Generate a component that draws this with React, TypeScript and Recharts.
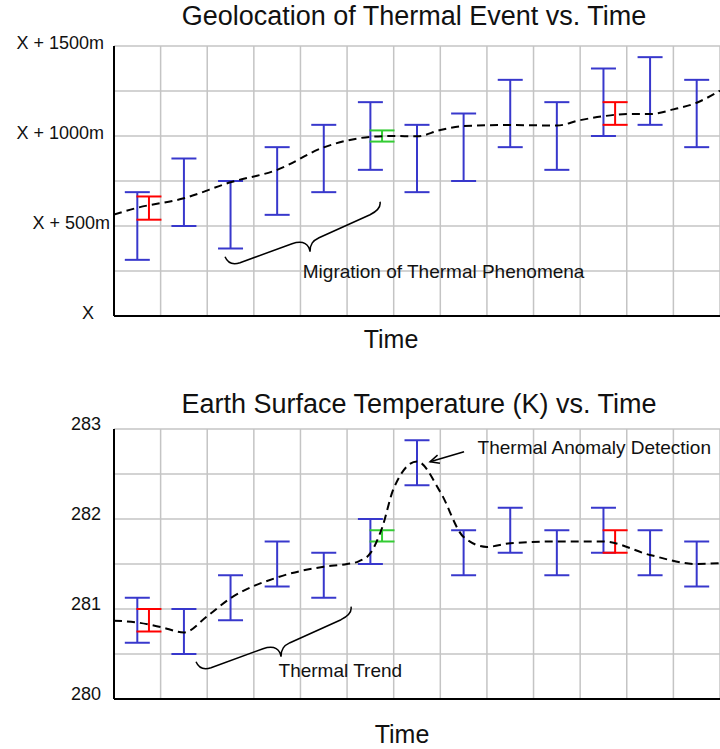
import {
  ComposedChart,
  Scatter,
  Line,
  ErrorBar,
  XAxis,
  YAxis,
  CartesianGrid,
  ReferenceDot,
} from "recharts";

// 13 time steps, each bar sits in the middle of its column
const timeSteps = [1, 2, 3, 4, 5, 6, 7, 8, 9, 10, 11, 12, 13];

// --- Geolocation (metres above X) ---
const geoBlueLow = [312, 500, 375, 562, 688, 812, 688, 750, 938, 812, 1000, 1062, 938];
const geoBlueHigh = [688, 875, 750, 938, 1062, 1188, 1062, 1125, 1312, 1188, 1375, 1438, 1312];
const geoRedStep = [0, 10];
const geoRedLow = [535, 1062];
const geoRedHigh = [664, 1188];
const geoGreenStep = [5];
const geoGreenLow = [969];
const geoGreenHigh = [1031];
const geoTrendX = [0, 0.5, 1.5, 2.5, 3.5, 4.5, 5, 5.5, 6, 6.5, 7, 7.5, 8.5, 9.5, 10, 10.5, 11, 11.5, 12, 12.5, 13];
const geoTrendY = [564, 601, 654, 743, 812, 937, 975, 995, 1000, 998, 1033, 1055, 1061, 1058, 1088, 1110, 1122, 1122, 1148, 1185, 1252];
const geoGridTicks = [0, 250, 500, 750, 1000, 1250, 1500];
const geoTickValues = [0, 500, 1000, 1500];
const geoTickLabels = ["X", "X + 500m", "X + 1000m", "X + 1500m"];

// --- Earth surface temperature (K) ---
const tempBlueLow = [280.625, 280.5, 280.875, 281.25, 281.125, 281.5, 282.375, 281.375, 281.625, 281.375, 281.625, 281.375, 281.25];
const tempBlueHigh = [281.125, 281.0, 281.375, 281.75, 281.625, 282.0, 282.875, 281.875, 282.125, 281.875, 282.125, 281.875, 281.75];
const tempRedStep = [0, 10];
const tempRedLow = [280.75, 281.625];
const tempRedHigh = [281.0, 281.875];
const tempGreenStep = [5];
const tempGreenLow = [281.75];
const tempGreenHigh = [281.875];
const tempTrendX = [0, 0.5, 1, 1.5, 2, 2.5, 3.5, 4.5, 5, 5.25, 5.5, 5.75, 6, 6.5, 7, 7.5, 8, 8.5, 9.5, 10.5, 11.5, 12.5, 13];
const tempTrendY = [280.87, 280.85, 280.8, 280.74, 280.92, 281.12, 281.35, 281.47, 281.5, 281.53, 281.62, 281.9, 282.34, 282.64, 282.3, 281.8, 281.69, 281.73, 281.75, 281.75, 281.6, 281.5, 281.51];
const tempGridTicks = [280, 280.5, 281, 281.5, 282, 282.5, 283];
const tempTickValues = [280, 281, 282, 283];
const tempTickLabels = ["280", "281", "282", "283"];

const xGridTicks = [0, ...timeSteps];

const FONT = '"Liberation Sans", Arial, Helvetica, sans-serif';
const BLUE = "#3838cc";
const RED = "#ff0000";
const GREEN = "#33cc33";
const GRID = "#c4c4c4";

const bars = (step: number[], low: number[], high: number[], shift: number) =>
  step.map((s, i) => ({ x: s + shift, y: (low[i] + high[i]) / 2, err: (high[i] - low[i]) / 2 }));

const trend = (xs: number[], ys: number[]) => xs.map((x, i) => ({ x, y: ys[i] }));

const noMarker = () => <g />;
const noTick = () => <g />;

// right edge of each y label (px) – the original labels are not aligned
const geoLabelRight = [94, 110, 104, 104];

const GeoTick = (props: any) => {
  const i = geoTickValues.indexOf(props.payload.value);
  if (i < 0) return <g />;
  return (
    <text x={geoLabelRight[i]} y={props.y + 2.5} textAnchor="end" fontSize={18} fontFamily={FONT} fill="#111">
      {geoTickLabels[i]}
    </text>
  );
};

const TempTick = (props: any) => {
  const i = tempTickValues.indexOf(props.payload.value);
  if (i < 0) return <g />;
  return (
    <text x={101} y={props.y + 1} textAnchor="end" fontSize={18} fontFamily={FONT} fill="#111">
      {tempTickLabels[i]}
    </text>
  );
};

const BRACE = "M -85,5 C -82,12 -76,13 -70,11 L -18,-8 C -6,-12 -1,-7 0,0 C 0,-8 3,-11 9,-14 L 60,-37 C 68,-41 71,-45 70,-50";

const braceShape = (p: any) => (
  <path d={BRACE} transform={`translate(${p.cx},${p.cy})`} fill="none" stroke="#000" strokeWidth={1.5} />
);

const noteShape = (text: string) => (p: any) => (
  <text x={p.cx} y={p.cy} fontSize={19} fontFamily={FONT} fill="#111">
    {text}
  </text>
);

const arrowShape = (p: any) => (
  <g transform={`translate(${p.cx},${p.cy})`} fill="none" stroke="#000" strokeWidth={1.5}>
    <line x1={0} y1={0} x2={34} y2={-10} />
    <polyline points="9.9,1.5 0,0 7.5,-6.6" />
  </g>
);

function Panel({
  domain,
  gridTicks,
  tick,
  blue,
  red,
  green,
  line,
  height,
  axisHeight,
  children,
}: any) {
  return (
    <ComposedChart width={720} height={height} margin={{ top: 46, right: 0, bottom: 0, left: 0 }}>
      <CartesianGrid stroke={GRID} strokeWidth={1.5} />
      <XAxis
        type="number"
        dataKey="x"
        domain={[0, 13]}
        ticks={xGridTicks}
        interval={0}
        allowDataOverflow
        tick={noTick}
        tickLine={false}
        height={axisHeight}
        axisLine={{ stroke: "#000", strokeWidth: 2 }}
      />
      <YAxis
        type="number"
        domain={domain}
        ticks={gridTicks}
        interval={0}
        allowDataOverflow
        width={114}
        tickLine={false}
        tick={tick}
        axisLine={{ stroke: "#000", strokeWidth: 2 }}
      />
      <Scatter data={blue} dataKey="y" shape={noMarker} isAnimationActive={false}>
        <ErrorBar dataKey="err" direction="y" width={12.5} stroke={BLUE} strokeWidth={2} isAnimationActive={false} />
      </Scatter>
      <Scatter data={red} dataKey="y" shape={noMarker} isAnimationActive={false}>
        <ErrorBar dataKey="err" direction="y" width={12.5} stroke={RED} strokeWidth={2} isAnimationActive={false} />
      </Scatter>
      <Scatter data={green} dataKey="y" shape={noMarker} isAnimationActive={false}>
        <ErrorBar dataKey="err" direction="y" width={12.5} stroke={GREEN} strokeWidth={2} isAnimationActive={false} />
      </Scatter>
      <Line
        data={line}
        dataKey="y"
        type="monotone"
        stroke="#000"
        strokeWidth={2}
        strokeDasharray="8 5"
        dot={false}
        activeDot={false}
        isAnimationActive={false}
      />
      {children}
    </ComposedChart>
  );
}

export default function App() {
  return (
    <div style={{ position: "absolute", left: 0, top: 0, width: 720, height: 749, background: "#fff", overflow: "hidden" }}>
      <div style={{ position: "absolute", left: 0, top: 0 }}>
        <Panel
          domain={[0, 1500]}
          gridTicks={geoGridTicks}
          tick={GeoTick}
          blue={bars(timeSteps.map((t) => t - 1), geoBlueLow, geoBlueHigh, 0.5)}
          red={bars(geoRedStep, geoRedLow, geoRedHigh, 0.75)}
          green={bars(geoGreenStep, geoGreenLow, geoGreenHigh, 0.75)}
          line={trend(geoTrendX, geoTrendY)}
          height={360}
          axisHeight={44}
        >
          <ReferenceDot x={4.205} y={357} r={0} shape={braceShape} ifOverflow="visible" />
          <ReferenceDot x={4.05} y={211} r={0} shape={noteShape("Migration of Thermal Phenomena")} ifOverflow="visible" />
        </Panel>
      </div>
      <div style={{ position: "absolute", left: 0, top: 383 }}>
        <Panel
          domain={[280, 283]}
          gridTicks={tempGridTicks}
          tick={TempTick}
          blue={bars(timeSteps.map((t) => t - 1), tempBlueLow, tempBlueHigh, 0.5)}
          red={bars(tempRedStep, tempRedLow, tempRedHigh, 0.75)}
          green={bars(tempGreenStep, tempGreenLow, tempGreenHigh, 0.75)}
          line={trend(tempTrendX, tempTrendY)}
          height={366}
          axisHeight={50}
        >
          <ReferenceDot x={3.583} y={280.47} r={0} shape={braceShape} ifOverflow="visible" />
          <ReferenceDot x={3.53} y={280.25} r={0} shape={noteShape("Thermal Trend")} ifOverflow="visible" />
          <ReferenceDot x={6.78} y={282.637} r={0} shape={arrowShape} ifOverflow="visible" />
          <ReferenceDot x={7.8} y={282.72} r={0} shape={noteShape("Thermal Anomaly Detection")} ifOverflow="visible" />
        </Panel>
      </div>
      <svg
        width={720}
        height={749}
        style={{ position: "absolute", left: 0, top: 0, pointerEvents: "none" }}
        fontFamily={FONT}
        fill="#111"
      >
        <text x={414} y={25} textAnchor="middle" fontSize={27}>
          Geolocation of Thermal Event vs. Time
        </text>
        <text x={391} y={348} textAnchor="middle" fontSize={25}>
          Time
        </text>
        <text x={419} y={413} textAnchor="middle" fontSize={27}>
          Earth Surface Temperature (K) vs. Time
        </text>
        <text x={402} y={743} textAnchor="middle" fontSize={25}>
          Time
        </text>
      </svg>
    </div>
  );
}
